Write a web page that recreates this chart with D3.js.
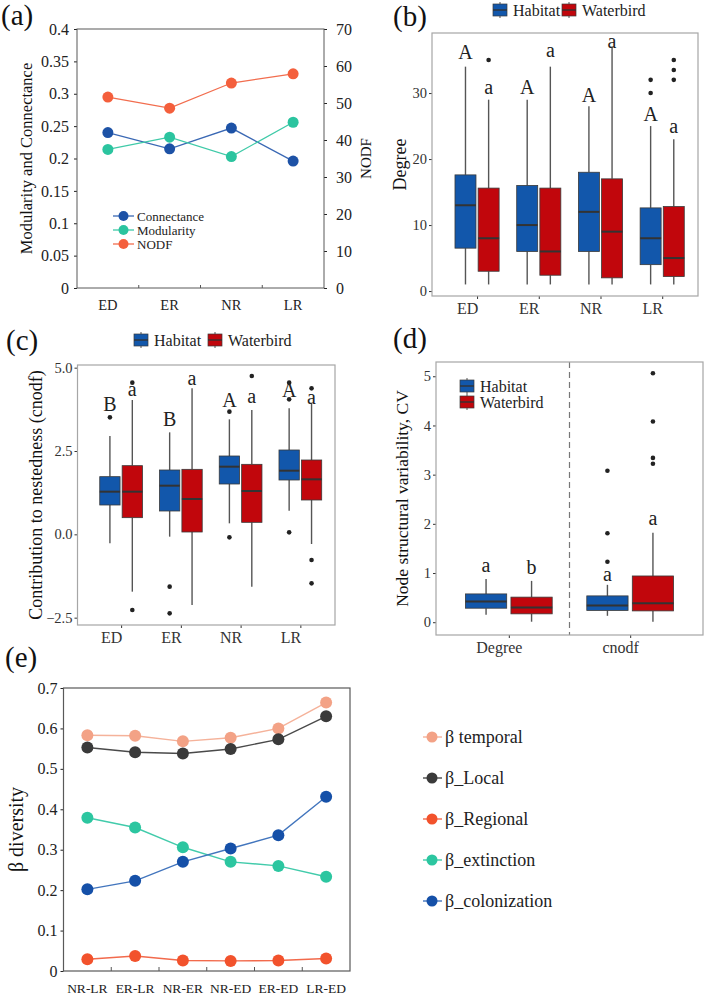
<!DOCTYPE html>
<html>
<head>
<meta charset="utf-8">
<script src="https://cdn.jsdelivr.net/npm/d3@7"></script>
<style>
  body { margin: 0; background: #fff; }
  text { font-family: "Liberation Serif", "Times New Roman", serif; }
</style>
</head>
<body>
<div id="chart"></div>
<script>
// ---- panel (a) data
var timeCats = ["ED", "ER", "NR", "LR"];
var connectance = [0.240, 0.215, 0.247, 0.196];
var modularity = [0.214, 0.233, 0.203, 0.256];
var nodf = [51.6, 48.6, 55.4, 57.9];
var aLeftTicks = [0, 0.05, 0.1, 0.15, 0.2, 0.25, 0.3, 0.35, 0.4];
var aLeftLabels = ["0", "0.05", "0.1", "0.15", "0.2", "0.25", "0.3", "0.35", "0.4"];
var aRightTicks = [0, 10, 20, 30, 40, 50, 60, 70];

// ---- panel (b) data: [lower whisker, q1, median, q3, upper whisker]
var degreeHabitat = [[1, 6.5, 13, 17.6, 34], [1, 6, 10, 16, 29], [1, 6, 12, 18, 28], [1, 4, 8, 12.6, 25]];
var degreeHabitatOut = [[], [], [], [32, 30]];
var degreeWaterbird = [[1, 3, 8, 15.6, 29], [1, 2.4, 6, 15.6, 34], [1, 2, 9, 17, 37], [1, 2.2, 5, 12.8, 23]];
var degreeWaterbirdOut = [[35], [], [], [35, 33.5, 32]];
var degreeHabitatLetters = ["A", "A", "A", "A"];
var degreeHabitatLetterY = [35.2, 29.9, 28.7, 25.7];
var degreeWaterbirdLetters = ["a", "a", "a", "a"];
var degreeWaterbirdLetterY = [29.8, 35.5, 36.8, 24];
var degreeTicks = [0, 10, 20, 30];

// ---- panel (c) data
var cnodfHabitat = [[-0.27, 0.88, 1.28, 1.73, 2.95], [-0.07, 0.7, 1.46, 1.93, 3.06], [0.33, 1.51, 2.03, 2.35, 3.45], [0.71, 1.63, 1.91, 2.53, 3.78]];
var cnodfHabitatOut = [[3.51], [-1.57, -2.37], [3.68, -0.09], [4.55, 4.05, 0.06]];
var cnodfWaterbird = [[-1.72, 0.5, 1.28, 2.06, 4.03], [-2.12, 0.07, 1.06, 1.95, 4.38], [-1.57, 0.36, 1.3, 2.1, 3.73], [-0.29, 1.03, 1.65, 2.23, 3.93]];
var cnodfWaterbirdOut = [[4.55, -2.27], [], [4.75], [4.38, -0.77, -1.47]];
var cnodfHabitatLetters = ["B", "B", "A", "A"];
var cnodfHabitatLetterY = [3.71, 3.25, 3.81, 4.11];
var cnodfWaterbirdLetters = ["a", "a", "a", "a"];
var cnodfWaterbirdLetterY = [4.15, 4.48, 3.93, 3.91];
var cnodfTicks = [-2.5, 0, 2.5, 5];

// ---- panel (d) data
var cvCats = ["Degree", "cnodf"];
var cvHabitat = [[0.15, 0.285, 0.42, 0.575, 0.88], [0.13, 0.24, 0.34, 0.535, 0.76]];
var cvHabitatOut = [[], [3.08, 1.81, 1.23]];
var cvWaterbird = [[0.01, 0.17, 0.3, 0.51, 0.84], [0.01, 0.23, 0.386, 0.94, 1.82]];
var cvWaterbirdOut = [[], [5.06, 4.08, 3.34, 3.22]];
var cvHabitatLetters = ["a", "a"];
var cvHabitatLetterY = [1.03, 0.83];
var cvWaterbirdLetters = ["b", "a"];
var cvWaterbirdLetterY = [0.99, 1.98];
var cvTicks = [0, 1, 2, 3, 4, 5];

// ---- panel (e) data
var pairCats = ["NR-LR", "ER-LR", "NR-ER", "NR-ED", "ER-ED", "LR-ED"];
var betaTemporal = [0.583, 0.582, 0.568, 0.577, 0.600, 0.664];
var betaLocal = [0.553, 0.541, 0.538, 0.549, 0.573, 0.630];
var betaRegional = [0.029, 0.037, 0.026, 0.025, 0.026, 0.031];
var betaExtinction = [0.379, 0.355, 0.306, 0.270, 0.260, 0.233];
var betaColonization = [0.202, 0.223, 0.270, 0.303, 0.336, 0.431];
var betaNames = ["β temporal", "β_Local", "β_Regional", "β_extinction", "β_colonization"];
var eTicks = [0, 0.1, 0.2, 0.3, 0.4, 0.5, 0.6, 0.7];

var groupNames = ["Habitat", "Waterbird"];
var habitatColor = "#1257ab";
var waterbirdColor = "#c1060c";
var serif = "'Liberation Serif', 'Times New Roman', serif";

var svg = d3.select("#chart").append("svg")
    .attr("width", 709)
    .attr("height", 997)
    .attr("font-family", serif);

function panelLabel(txt, x, y) {
    svg.append("text").attr("x", x).attr("y", y)
        .attr("font-size", 29).attr("fill", "#111").text(txt);
}

function styleAxis(sel, size, color) {
    sel.attr("font-family", serif);
    sel.select(".domain").remove();
    sel.selectAll(".tick line").attr("stroke", color);
    sel.selectAll(".tick text").attr("font-size", size).attr("fill", color)
        .style("font-family", serif);
}

// ================= panel (a)
var panelA = function() {
    var g = svg.append("g");
    var left = 77, right = 324, top = 29, bottom = 288;
    var x = d3.scaleBand().domain(timeCats).range([left, right]);
    var yL = d3.scaleLinear().domain([0, 0.4]).range([bottom, top]);
    var yR = d3.scaleLinear().domain([0, 70]).range([bottom, top]);
    var cx = function(i) { return x(timeCats[i]) + x.bandwidth() / 2; };

    g.append("g").attr("transform", "translate(" + left + ",0)")
        .call(d3.axisLeft(yL).tickValues(aLeftTicks).tickSize(3).tickPadding(5)
            .tickFormat(function(d, i) { return aLeftLabels[i]; }))
        .call(styleAxis, 16, "#222");
    g.append("g").attr("transform", "translate(" + right + ",0)")
        .call(d3.axisRight(yR).tickValues(aRightTicks).tickSize(3).tickPadding(9))
        .call(styleAxis, 16, "#222");
    // category boundary ticks pointing up
    g.selectAll(".btick").data(timeCats.slice(1)).enter().append("line")
        .attr("x1", function(d) { return x(d); }).attr("x2", function(d) { return x(d); })
        .attr("y1", bottom).attr("y2", bottom - 3).attr("stroke", "#555");
    g.selectAll(".xlab").data(timeCats).enter().append("text")
        .attr("x", function(d, i) { return cx(i); }).attr("y", 310)
        .attr("text-anchor", "middle").attr("font-size", 14.5).attr("fill", "#222")
        .text(function(d) { return d; });
    g.append("rect").attr("x", left).attr("y", top).attr("width", right - left).attr("height", bottom - top)
        .attr("fill", "none").attr("stroke", "#595959").attr("stroke-width", 1);

    var series = [
        { name: "Connectance", vals: connectance, y: yL, color: "#1d52a6", line: "#3a68b4" },
        { name: "Modularity", vals: modularity, y: yL, color: "#2bc49f", line: "#3fcaa8" },
        { name: "NODF", vals: nodf, y: yR, color: "#f45f3c", line: "#f26d4e" }
    ];
    series.forEach(function(s) {
        var line = d3.line().x(function(d, i) { return cx(i); }).y(function(d) { return s.y(d); });
        g.append("path").datum(s.vals).attr("d", line).attr("fill", "none")
            .attr("stroke", s.line).attr("stroke-width", 1.3);
        g.selectAll(null).data(s.vals).enter().append("circle")
            .attr("cx", function(d, i) { return cx(i); }).attr("cy", function(d) { return s.y(d); })
            .attr("r", 5.5).attr("fill", s.color);
    });
    // legend
    series.forEach(function(s, i) {
        var ly = 216 + i * 14;
        g.append("line").attr("x1", 113).attr("x2", 134).attr("y1", ly).attr("y2", ly)
            .attr("stroke", s.line).attr("stroke-width", 1.3);
        g.append("circle").attr("cx", 123.5).attr("cy", ly).attr("r", 5).attr("fill", s.color);
        g.append("text").attr("x", 137).attr("y", ly + 4.5).attr("font-size", 13).attr("fill", "#222").text(s.name);
    });
    g.append("text").attr("transform", "translate(32," + ((top + bottom) / 2) + ") rotate(-90)")
        .attr("text-anchor", "middle").attr("font-size", 16.5).attr("fill", "#111")
        .text("Modularity and Connectance");
    g.append("text").attr("transform", "translate(371," + ((top + bottom) / 2) + ") rotate(-90)")
        .attr("text-anchor", "middle").attr("font-size", 15).attr("fill", "#111")
        .text("NODF");
    panelLabel("(a)", 1, 25);
};

// ================= box panels (b), (c), (d)
var boxPanel = function(o) {
    var g = svg.append("g");
    var x = d3.scaleLinear().domain(o.xDomain).range([o.left, o.right]);
    var y = d3.scaleLinear().domain(o.yDomain).range([o.bottom, o.top]);
    var unit = x(1) - x(0);
    var bw = 0.34 * unit, off = 0.1875 * unit;

    g.append("rect").attr("x", o.left).attr("y", o.top).attr("width", o.right - o.left)
        .attr("height", o.bottom - o.top).attr("fill", "#fff");

    var ya = g.append("g").attr("transform", "translate(" + o.left + ",0)")
        .call(d3.axisLeft(y).tickValues(o.ticks).tickSize(3).tickPadding(2).tickFormat(o.tickFormat));
    styleAxis(ya, 14.5, "#333");
    var xa = g.append("g").attr("transform", "translate(0," + o.bottom + ")")
        .call(d3.axisBottom(x).tickValues(o.cats.map(function(d, i) { return i + 1; }))
            .tickSize(3).tickPadding(4).tickFormat(function(d) { return o.cats[d - 1]; }));
    styleAxis(xa, 16, "#333");
    xa.selectAll(".tick text").attr("dx", -10);

    if (o.divider) {
        g.append("line").attr("x1", x(1.5)).attr("x2", x(1.5)).attr("y1", o.top).attr("y2", o.bottom)
            .attr("stroke", "#777").attr("stroke-width", 1.2).attr("stroke-dasharray", "6,4");
    }

    var groups = [
        { stats: o.habitat, out: o.habitatOut, letters: o.habitatLetters, letterY: o.habitatLetterY, shift: -off, color: habitatColor },
        { stats: o.waterbird, out: o.waterbirdOut, letters: o.waterbirdLetters, letterY: o.waterbirdLetterY, shift: off, color: waterbirdColor }
    ];
    groups.forEach(function(gr) {
        gr.stats.forEach(function(s, i) {
            var c = x(i + 1) + gr.shift;
            g.append("line").attr("x1", c).attr("x2", c).attr("y1", y(s[4])).attr("y2", y(s[3]))
                .attr("stroke", "#555").attr("stroke-width", 1.4);
            g.append("line").attr("x1", c).attr("x2", c).attr("y1", y(s[1])).attr("y2", y(s[0]))
                .attr("stroke", "#555").attr("stroke-width", 1.4);
            g.append("rect").attr("x", c - bw / 2).attr("y", y(s[3])).attr("width", bw)
                .attr("height", y(s[1]) - y(s[3])).attr("fill", gr.color)
                .attr("stroke", "#3a3a3a").attr("stroke-width", 0.8);
            g.append("line").attr("x1", c - bw / 2).attr("x2", c + bw / 2).attr("y1", y(s[2])).attr("y2", y(s[2]))
                .attr("stroke", "#333").attr("stroke-width", 2);
            g.selectAll(null).data(gr.out[i]).enter().append("circle")
                .attr("cx", c).attr("cy", function(d) { return y(d); }).attr("r", 2.3).attr("fill", "#222");
            g.append("text").attr("x", c).attr("y", y(gr.letterY[i])).attr("text-anchor", "middle")
                .attr("font-size", 20).attr("fill", "#222").text(gr.letters[i]);
        });
    });

    g.append("rect").attr("x", o.left).attr("y", o.top).attr("width", o.right - o.left)
        .attr("height", o.bottom - o.top).attr("fill", "none").attr("stroke", "#a6a6a6").attr("stroke-width", 1.2);

    g.append("text").attr("transform", "translate(" + o.titleX + "," + ((o.top + o.bottom) / 2) + ") rotate(-90)")
        .attr("text-anchor", "middle").attr("font-size", o.titleSize).attr("fill", "#111").text(o.title);

    // legend keys
    o.legend.forEach(function(p, i) {
        var col = i === 0 ? habitatColor : waterbirdColor;
        g.append("line").attr("x1", p[0] + 7).attr("x2", p[0] + 7).attr("y1", p[1] - 2).attr("y2", p[1] + 14)
            .attr("stroke", "#555").attr("stroke-width", 1);
        g.append("rect").attr("x", p[0]).attr("y", p[1]).attr("width", 14).attr("height", 12)
            .attr("fill", col).attr("stroke", "#3a3a3a").attr("stroke-width", 0.7);
        g.append("line").attr("x1", p[0]).attr("x2", p[0] + 14).attr("y1", p[1] + 6).attr("y2", p[1] + 6)
            .attr("stroke", "#333").attr("stroke-width", 1.4);
        g.append("text").attr("x", p[0] + 20).attr("y", p[1] + 11.5).attr("font-size", 16)
            .attr("fill", "#222").text(groupNames[i]);
    });
};

panelA();

boxPanel({
    left: 432, right: 698, top: 33, bottom: 296,
    xDomain: [0.27, 4.58], yDomain: [-0.75, 39.1],
    cats: timeCats, ticks: degreeTicks, tickFormat: d3.format("d"),
    habitat: degreeHabitat, habitatOut: degreeHabitatOut,
    habitatLetters: degreeHabitatLetters, habitatLetterY: degreeHabitatLetterY,
    waterbird: degreeWaterbird, waterbirdOut: degreeWaterbirdOut,
    waterbirdLetters: degreeWaterbirdLetters, waterbirdLetterY: degreeWaterbirdLetterY,
    title: "Degree", titleX: 406, titleSize: 18,
    legend: [[493, 4], [562, 4]]
});
panelLabel("(b)", 393, 26);

boxPanel({
    left: 77.5, right: 335, top: 365, bottom: 625,
    xDomain: [0.27, 4.58], yDomain: [-2.72, 5.08],
    cats: timeCats, ticks: cnodfTicks, tickFormat: d3.format(".1f"),
    habitat: cnodfHabitat, habitatOut: cnodfHabitatOut,
    habitatLetters: cnodfHabitatLetters, habitatLetterY: cnodfHabitatLetterY,
    waterbird: cnodfWaterbird, waterbirdOut: cnodfWaterbirdOut,
    waterbirdLetters: cnodfWaterbirdLetters, waterbirdLetterY: cnodfWaterbirdLetterY,
    title: "Contribution to nestedness (cnodf)", titleX: 42, titleSize: 18,
    legend: [[134, 334], [208, 334]]
});
panelLabel("(c)", 6, 350);

boxPanel({
    left: 436, right: 703, top: 362, bottom: 635,
    xDomain: [0.4, 2.6], yDomain: [-0.26, 5.29],
    cats: cvCats, ticks: cvTicks, tickFormat: d3.format("d"),
    divider: true,
    habitat: cvHabitat, habitatOut: cvHabitatOut,
    habitatLetters: cvHabitatLetters, habitatLetterY: cvHabitatLetterY,
    waterbird: cvWaterbird, waterbirdOut: cvWaterbirdOut,
    waterbirdLetters: cvWaterbirdLetters, waterbirdLetterY: cvWaterbirdLetterY,
    title: "Node structural variability, CV", titleX: 408, titleSize: 17.5,
    legend: [[460, 380], [460, 396]]
});
panelLabel("(d)", 393, 348);

// ================= panel (e)
var panelE = function() {
    var g = svg.append("g");
    var left = 63.5, right = 350, top = 688, bottom = 971;
    var x = d3.scaleBand().domain(pairCats).range([left, right]);
    var y = d3.scaleLinear().domain([0, 0.7]).range([bottom, top]);
    var cx = function(i) { return x(pairCats[i]) + x.bandwidth() / 2; };

    g.append("g").attr("transform", "translate(" + left + ",0)")
        .call(d3.axisLeft(y).tickValues(eTicks).tickSize(3).tickPadding(3).tickFormat(d3.format("")))
        .call(styleAxis, 16, "#222");
    g.selectAll(".btick").data(pairCats.slice(1)).enter().append("line")
        .attr("x1", function(d) { return x(d); }).attr("x2", function(d) { return x(d); })
        .attr("y1", bottom).attr("y2", bottom - 4).attr("stroke", "#555");
    g.selectAll(".xlab").data(pairCats).enter().append("text")
        .attr("x", function(d, i) { return cx(i); }).attr("y", 993)
        .attr("text-anchor", "middle").attr("font-size", 13.5).attr("fill", "#222")
        .text(function(d) { return d; });
    g.append("rect").attr("x", left).attr("y", top).attr("width", right - left).attr("height", bottom - top)
        .attr("fill", "none").attr("stroke", "#595959").attr("stroke-width", 1.2);

    var series = [
        { vals: betaTemporal, color: "#f3a286", line: "#f5b29a" },
        { vals: betaLocal, color: "#3a3a3a", line: "#4a4a4a" },
        { vals: betaRegional, color: "#f2522c", line: "#f26a4c" },
        { vals: betaExtinction, color: "#2cc6a0", line: "#42cbab" },
        { vals: betaColonization, color: "#1550a8", line: "#4275bd" }
    ];
    series.forEach(function(s) {
        var line = d3.line().x(function(d, i) { return cx(i); }).y(function(d) { return y(d); });
        g.append("path").datum(s.vals).attr("d", line).attr("fill", "none")
            .attr("stroke", s.line).attr("stroke-width", 1.4);
        g.selectAll(null).data(s.vals).enter().append("circle")
            .attr("cx", function(d, i) { return cx(i); }).attr("cy", function(d) { return y(d); })
            .attr("r", 6).attr("fill", s.color);
    });
    series.forEach(function(s, i) {
        var ly = 737 + i * 41;
        g.append("line").attr("x1", 423).attr("x2", 442).attr("y1", ly).attr("y2", ly)
            .attr("stroke", s.line).attr("stroke-width", 1.4);
        g.append("circle").attr("cx", 432).attr("cy", ly).attr("r", 5.5).attr("fill", s.color);
        g.append("text").attr("x", 445).attr("y", ly + 6).attr("font-size", 18).attr("fill", "#222")
            .text(betaNames[i]);
    });
    g.append("text").attr("transform", "translate(23," + ((top + bottom) / 2) + ") rotate(-90)")
        .attr("text-anchor", "middle").attr("font-size", 20).attr("fill", "#111")
        .text("β diversity");
    panelLabel("(e)", 5, 667);
};
panelE();
</script>
</body>
</html>
